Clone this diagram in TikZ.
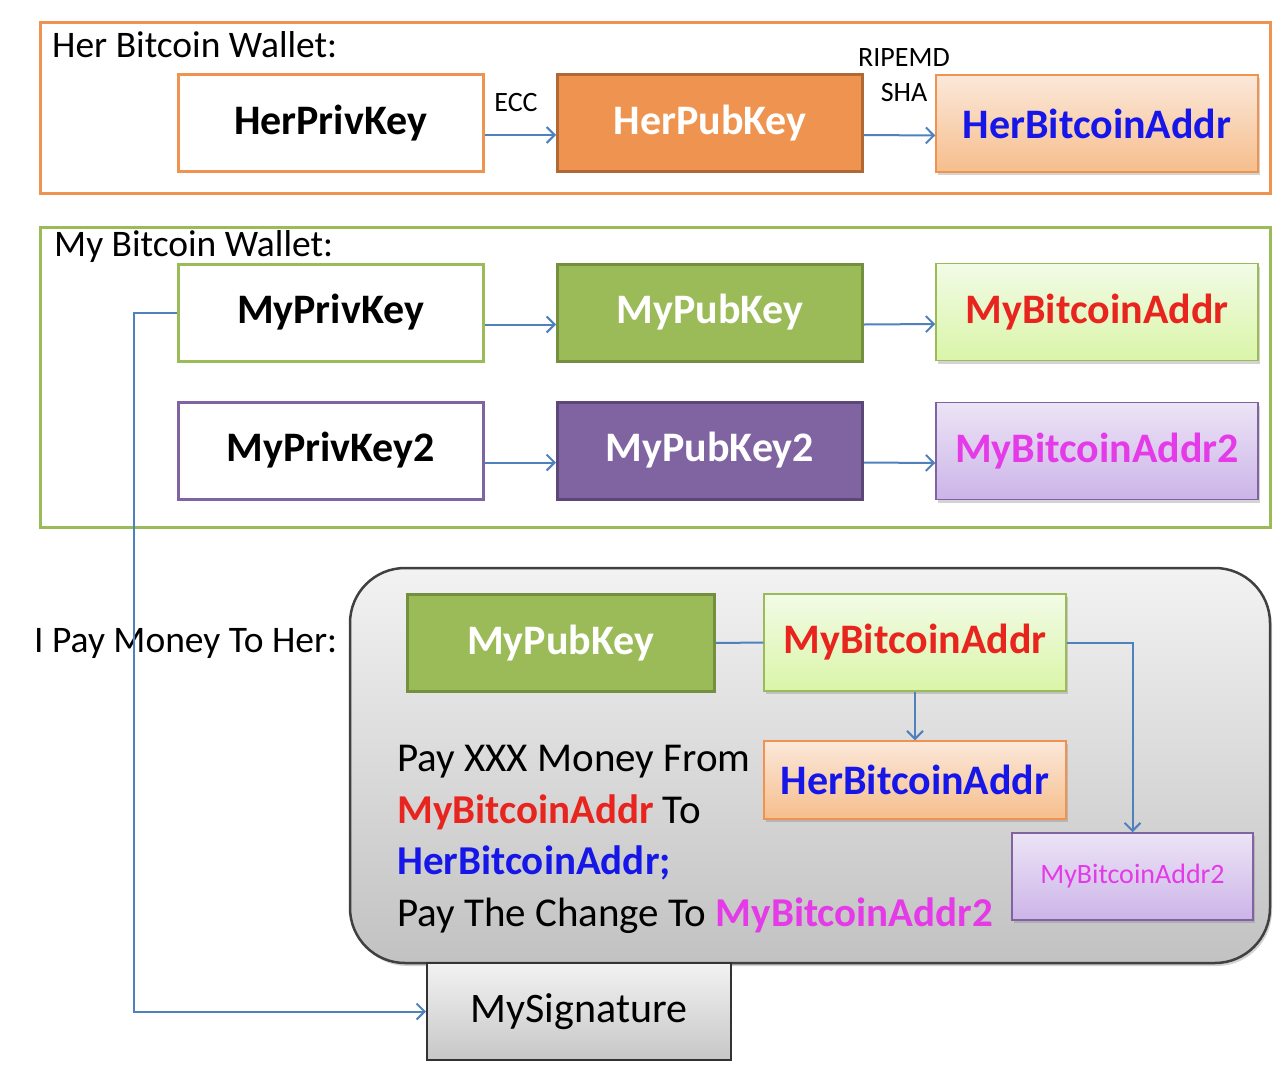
\documentclass[tikz,border=0pt]{standalone}
\usepackage{fontspec}
\setmainfont{Carlito}
\usetikzlibrary{arrows.meta,shadows}
\definecolor{herorange}{RGB}{238,148,80}
\definecolor{herdark}{RGB}{176,104,52}
\definecolor{mygreen}{RGB}{155,187,89}
\definecolor{mydark}{RGB}{116,143,62}
\definecolor{mypurple}{RGB}{128,100,162}
\definecolor{purpdark}{RGB}{92,72,120}
\definecolor{linkblue}{RGB}{79,129,189}
\definecolor{addrred}{RGB}{232,36,30}
\definecolor{addrblue}{RGB}{22,22,232}
\definecolor{addrpink}{RGB}{228,58,232}
\tikzset{%
  bigfont/.style={font=\fontsize{42}{46}\selectfont\bfseries},%
  keybox/.style={draw,line width=3pt,minimum width=305pt,minimum height=97pt,inner sep=0pt,bigfont},%
  addrbox/.style={keybox,line width=1.5pt,minimum width=322pt,drop shadow={opacity=0.35,shadow xshift=2pt,shadow yshift=-3pt}},%
  link/.style={draw=linkblue,line width=2pt},%
  tip/.style={link,-{Straight Barb[length=8pt,width=16pt]}},%
  frame/.style={line width=3pt},%
  small/.style={font=\fontsize{28}{30}\selectfont,inner sep=0pt},%
  title/.style={font=\fontsize{37.5}{42}\selectfont,inner sep=0pt,anchor=west},%
}
\begin{document}
\begin{tikzpicture}[x=1pt,y=-1pt]%
\useasboundingbox (0,0) rectangle (1288,1090);%
% her wallet
\draw [frame,draw=herorange] (40,22) rectangle (1270,193);%
\node [title] (hertitle) at (52,45) {Her Bitcoin Wallet:};%
\node [keybox,draw=herorange,fill=white] (herpriv) at (330.5,123) {HerPrivKey};%
\node [keybox,draw=herdark,fill=herorange,text=white] (herpub) at (710,123) {HerPubKey};%
\node [addrbox,draw=herorange,top color={rgb,255:red,251;green,232;blue,218},bottom color={rgb,255:red,246;green,190;blue,140},text=addrblue] (heraddr) at (1097,123.5) {HerBitcoinAddr};%
\node [small] (ecc) at (516,103) {ECC};%
\node [small] (ripemd) at (904,58) {RIPEMD};%
\node [small] (sha) at (904,93) {SHA};%
\draw [tip] ([yshift=-12pt]herpriv.east) -- ([yshift=-12pt]herpub.west);%
\draw [tip] ([yshift=-12pt]herpub.east) -- ([yshift=-12pt]heraddr.west);%
% my wallet
\draw [frame,draw=mygreen] (40,227) rectangle (1270,527);%
\node [title] (mytitle) at (54,246) {My Bitcoin Wallet:};%
\node [keybox,draw=mygreen,fill=white] (mypriv) at (330.5,312.5) {MyPrivKey};%
\node [keybox,draw=mydark,fill=mygreen,text=white] (mypub) at (710,312.5) {MyPubKey};%
\node [addrbox,draw=mygreen,top color={rgb,255:red,242;green,251;blue,230},bottom color={rgb,255:red,218;green,245;blue,168},text=addrred] (myaddr) at (1097,312) {MyBitcoinAddr};%
\node [keybox,draw=mypurple,fill=white] (mypriv2) at (330.5,450.5) {MyPrivKey2};%
\node [keybox,draw=purpdark,fill=mypurple,text=white] (mypub2) at (710,450.5) {MyPubKey2};%
\node [addrbox,draw=mypurple,top color={rgb,255:red,236;green,228;blue,246},bottom color={rgb,255:red,204;green,180;blue,232},text=addrpink] (myaddr2) at (1097,451) {MyBitcoinAddr2};%
\draw [tip] ([yshift=-12pt]mypriv.east) -- ([yshift=-12pt]mypub.west);%
\draw [tip] ([yshift=-12pt]mypub.east) -- ([yshift=-12pt]myaddr.west);%
\draw [tip] ([yshift=-12pt]mypriv2.east) -- ([yshift=-12pt]mypub2.west);%
\draw [tip] ([yshift=-12pt]mypub2.east) -- ([yshift=-12pt]myaddr2.west);%
% the payment
\draw [line width=2.5pt,draw=black!75,rounded corners=55pt,top color=black!5,bottom color=black!24,drop shadow={opacity=0.35,shadow xshift=2pt,shadow yshift=-3pt}] (350,568) rectangle (1270,963);%
\node [title] (paytitle) at (34,643) {I Pay Money To Her:};%
\node [keybox,draw=mydark,fill=mygreen,text=white,minimum width=307pt] (pmypub) at (560.5,643) {MyPubKey};%
\node [addrbox,draw=mygreen,minimum width=302pt,top color={rgb,255:red,242;green,251;blue,230},bottom color={rgb,255:red,218;green,245;blue,168},text=addrred] (pmyaddr) at (915,642.5) {MyBitcoinAddr};%
\node [addrbox,draw=herorange,minimum width=302pt,minimum height=78pt,top color={rgb,255:red,251;green,232;blue,218},bottom color={rgb,255:red,246;green,190;blue,140},text=addrblue] (pheraddr) at (915,780) {HerBitcoinAddr};%
\node [addrbox,draw=mypurple,minimum width=241pt,minimum height=87pt,font=\fontsize{28}{30}\selectfont,top color={rgb,255:red,236;green,228;blue,246},bottom color={rgb,255:red,204;green,180;blue,232},text=addrpink] (pmyaddr2) at (1132.5,876.5) {MyBitcoinAddr2};%
\node [anchor=north west,align=left,inner sep=0pt,font=\fontsize{41}{51.5}\selectfont] (paytext) at (397,745) {Pay XXX Money From\\\textcolor{addrred}{\bfseries MyBitcoinAddr} To\\\textcolor{addrblue}{\bfseries HerBitcoinAddr;}\\Pay The Change To \textcolor{addrpink}{\bfseries MyBitcoinAddr2}};%
\draw [link] (pmypub.east) -- (pmyaddr.west);%
\draw [tip] (pmyaddr.south) -- (pheraddr.north);%
\draw [tip] (pmyaddr.east) -| (pmyaddr2.north);%
\node [draw=black!80,line width=2pt,minimum width=304pt,minimum height=97pt,top color=black!5,bottom color=black!22,font=\fontsize{42}{44}\selectfont] (mysig) at (579,1011.5) {MySignature};%
\draw [tip] (mypriv.west) -- ++(-43,0) |- (mysig.west);%
\end{tikzpicture}
\end{document}
